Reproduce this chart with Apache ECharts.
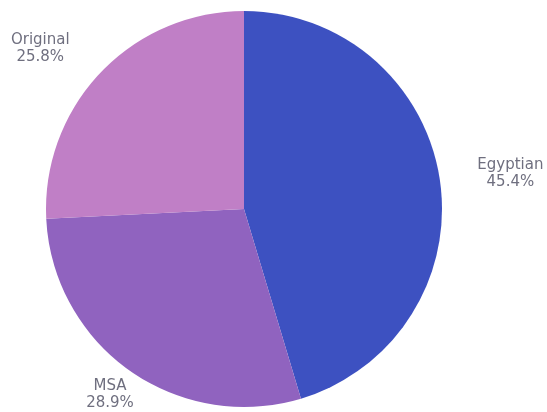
<!DOCTYPE html>
<html>
<head>
<meta charset="utf-8">
<title>Dialect share</title>
<script src="https://cdn.jsdelivr.net/npm/echarts@6/dist/echarts.min.js"></script>
<style>
  html, body { margin: 0; padding: 0; background: #ffffff; }
  #chart { width: 547px; height: 412px; }
</style>
</head>
<body>
<div id="chart"></div>
<script>
// Share of each variety (percent)
const categories = ['Egyptian', 'MSA', 'Original'];
const shares = [45.4, 28.9, 25.8];

// Slice colours, in category order
const sliceColors = ['#3d51c1', '#9063bf', '#c07fc6'];

// Hidden label leader geometry per slice: [length, length2]
const labelReach = [
  [48, -17],
  [29, -37],
  [35, -5]
];

const chart = echarts.init(document.getElementById('chart'), null, { renderer: 'canvas' });

const pieData = categories.map((name, i) => ({
  name: name,
  value: shares[i],
  itemStyle: { color: sliceColors[i] },
  labelLine: { show: false, length: labelReach[i][0], length2: labelReach[i][1] }
}));

chart.setOption({
  animation: false,
  backgroundColor: '#ffffff',
  series: [{
    type: 'pie',
    center: [244, 209],
    radius: 198,
    startAngle: 90,
    clockwise: true,
    avoidLabelOverlap: false,
    emphasis: { disabled: true },
    itemStyle: { borderWidth: 0 },
    label: {
      show: true,
      position: 'outside',
      alignTo: 'none',
      distanceToLabelLine: 5,
      formatter: (p) => `{t|${p.name}}\n{t|${p.value.toFixed(1)}%}`,
      rich: {
        t: {
          width: 70,
          align: 'center',
          fontFamily: 'DejaVu Sans',
          fontSize: 15,
          lineHeight: 17,
          color: '#6f6f7f'
        }
      }
    },
    labelLine: { show: false },
    data: pieData
  }]
});
</script>
</body>
</html>
